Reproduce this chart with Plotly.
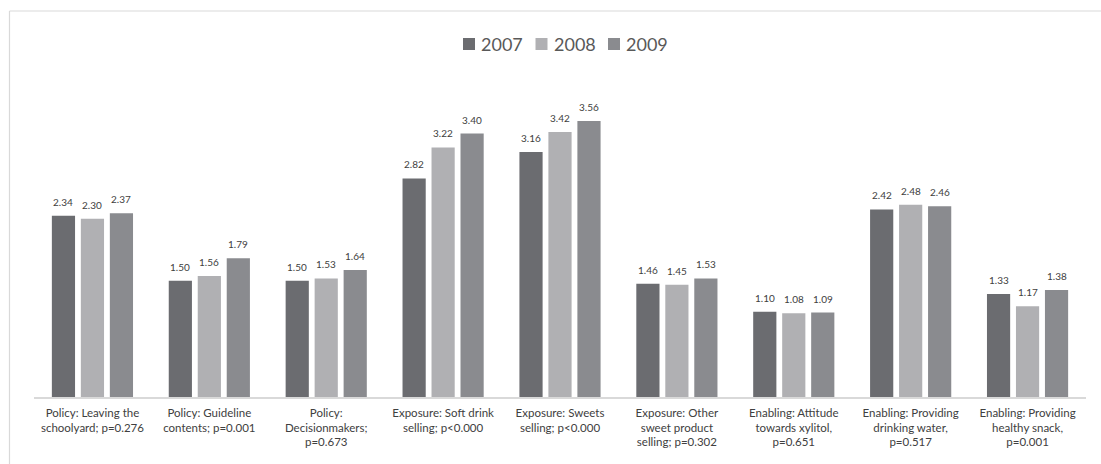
import plotly.graph_objects as go

categories = [
    "Policy: Leaving the<br>schoolyard; p=0.276",
    "Policy: Guideline<br>contents; p=0.001",
    "Policy:<br>Decisionmakers;<br>p=0.673",
    "Exposure: Soft drink<br>selling; p<0.000",
    "Exposure: Sweets<br>selling; p<0.000",
    "Exposure: Other<br>sweet product<br>selling; p=0.302",
    "Enabling: Attitude<br>towards xylitol,<br>p=0.651",
    "Enabling: Providing<br>drinking water,<br>p=0.517",
    "Enabling: Providing<br>healthy snack,<br>p=0.001",
]
values_2007 = [2.34, 1.50, 1.50, 2.82, 3.16, 1.46, 1.10, 2.42, 1.33]
values_2008 = [2.30, 1.56, 1.53, 3.22, 3.42, 1.45, 1.08, 2.48, 1.17]
values_2009 = [2.37, 1.79, 1.64, 3.40, 3.56, 1.53, 1.09, 2.46, 1.38]

series = [
    ("2007", values_2007, "#6b6c70"),
    ("2008", values_2008, "#b0b0b3"),
    ("2009", values_2009, "#8a8b8f"),
]

W, H = 1101, 464
L, R, T, B = 34, 15, 87, 67
BARGAP = 0.256
plot_w = W - L - R
plot_h = H - T - B


def px_x(px):
    return (px - L) / plot_w


def px_y(py):
    return (H - B - py) / plot_h


fig = go.Figure()
annotations = []
shapes = []
slot = (1 - BARGAP) / len(series)
for k, (name, vals, color) in enumerate(series):
    fig.add_trace(go.Bar(
        name=name,
        x=categories,
        y=vals,
        marker=dict(color=color, line=dict(width=0)),
        showlegend=False,
    ))
    # value labels above each bar, placed at the bar's offset within its group
    for i, v in enumerate(vals):
        annotations.append(dict(
            x=i + (k - (len(series) - 1) / 2) * slot, y=v,
            xref="x", yref="y", text=f"{v:.2f}", showarrow=False,
            yanchor="bottom", yshift=6,
            font=dict(size=10, color="#404040", family="Lato"),
        ))

    # legend entry: square swatch followed by the year
    sx = 463 + k * 72.5
    shapes.append(dict(
        type="rect", xref="paper", yref="paper",
        x0=px_x(sx), x1=px_x(sx + 12), y0=px_y(50), y1=px_y(38),
        fillcolor=color, line=dict(width=0),
    ))
    annotations.append(dict(
        x=px_x(sx + 16), y=px_y(44), xref="paper", yref="paper",
        xanchor="left", yanchor="middle", text=name, showarrow=False,
        font=dict(size=18, color="#595959", family="Lato"),
    ))

fx0 = px_x(9.5)
fy1 = px_y(11)
shapes += [
    dict(type="line", xref="paper", yref="paper",
         x0=fx0, x1=1.2, y0=fy1, y1=fy1,
         line=dict(color="#d9d9d9", width=1.2)),
    dict(type="line", xref="paper", yref="paper",
         x0=fx0, x1=fx0, y0=fy1, y1=-0.5,
         line=dict(color="#d9d9d9", width=1.2)),
]

fig.update_layout(
    width=W, height=H,
    margin=dict(l=L, r=R, t=T, b=B, pad=0),
    paper_bgcolor="white",
    plot_bgcolor="white",
    barmode="group",
    bargap=BARGAP,
    bargroupgap=0.2,
    font=dict(family="Lato", color="#404040"),
    showlegend=False,
    xaxis=dict(
        showline=True, linecolor="#d9d9d9", linewidth=1.5,
        ticks="", showgrid=False, ticklabelstandoff=4,
        tickfont=dict(size=11.5, color="#404040"),
    ),
    yaxis=dict(
        range=[0, 4], visible=False, showgrid=False, zeroline=False,
    ),
    annotations=annotations,
    shapes=shapes,
)

fig.write_html("out.html")
